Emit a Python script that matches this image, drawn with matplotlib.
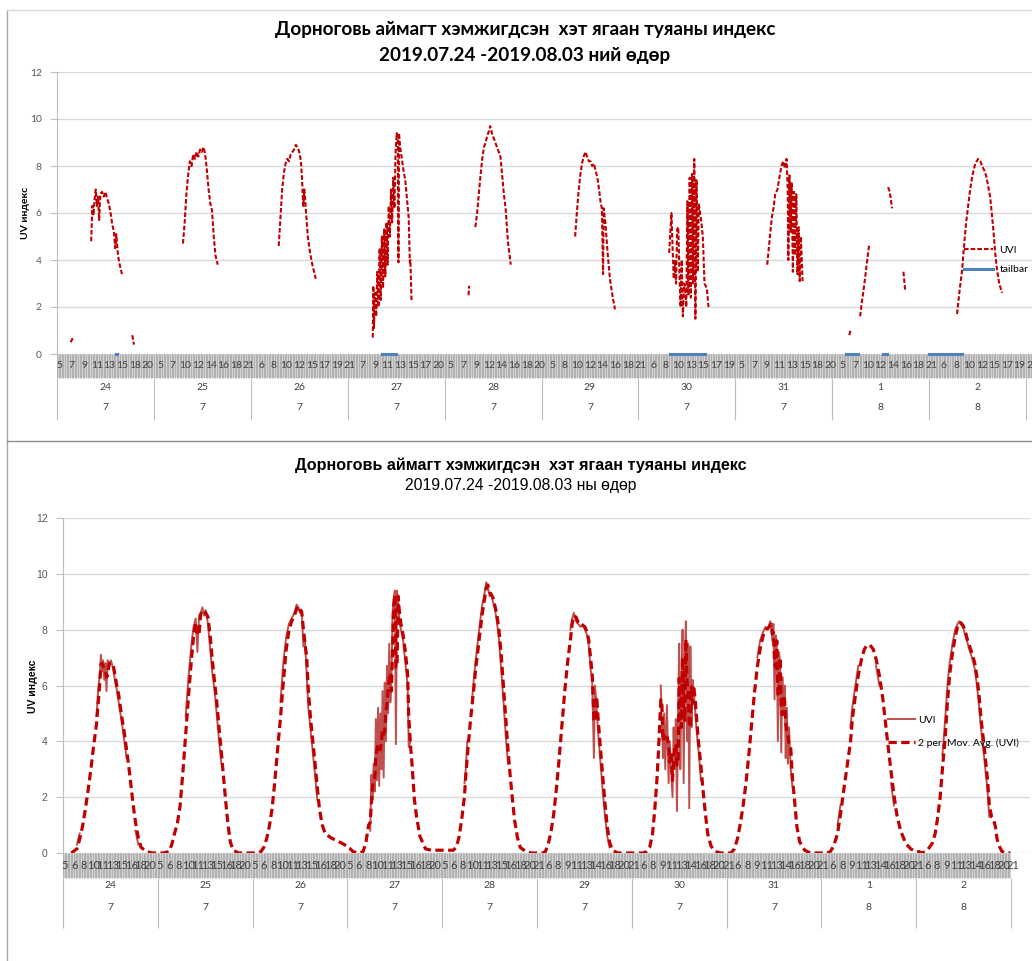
import numpy as np
import matplotlib.pyplot as plt
import matplotlib.transforms as mtransforms
from matplotlib.lines import Line2D
from matplotlib.patches import Rectangle

# ---- data -------------------------------------------------------------
days = ['24', '25', '26', '27', '28', '29', '30', '31', '1', '2']
months = ['7', '7', '7', '7', '7', '7', '7', '7', '8', '8']

# top chart: hour of day / UVI (None = no measurement)
top_hours = [
    [7.4, 7.8, 9.0, 11.0, 11.2, 11.4, 11.6, 11.8, 12.0, 12.2, 12.4, 12.6, 12.9, 13.2, 13.5, 13.8, 14.1, 14.4, 14.7, 15.0, 15.2, 15.4, 15.7, 16.0, 16.4, 17.0, 18.2, 18.5],
    [10.1, 10.4, 10.7, 11.0, 11.3, 11.6, 11.9, 12.2, 12.5, 12.8, 13.1, 13.4, 13.7, 14.0, 14.3, 14.6, 14.9, 15.2, 15.5, 15.8, 16.2],
    [9.9, 10.2, 10.5, 10.8, 11.1, 11.4, 11.7, 12.0, 12.3, 12.6, 12.9, 13.2, 13.5, 13.8, 14.0, 14.2, 14.4, 14.7, 15.0, 15.4, 15.8, 16.4],
    [9.4, 9.5, 9.6, 9.8, 10.0, 10.2, 10.4, 10.6, 10.8, 11.0, 11.2, 11.4, 11.6, 11.8, 12.0, 12.2, 12.4, 12.6, 12.8, 13.0, 13.2, 13.4, 13.6, 13.8, 13.9, 14.0, 14.2, 14.5, 14.8, 15.1, 15.4, 15.7, 15.9, 16.0, 16.2],
    [9.2, 9.3, 9.8, 10.4, 10.7, 11.0, 11.3, 11.6, 11.9, 12.2, 12.5, 12.8, 13.0, 13.3, 13.6, 13.9, 14.2, 14.5, 14.8, 15.1, 15.4, 15.7, 16.1, 16.6],
    [10.9, 11.2, 11.5, 11.8, 12.1, 12.4, 12.7, 13.0, 13.3, 13.6, 13.9, 14.2, 14.5, 14.8, 15.1, 15.4, 15.6, 15.8, 15.9, 16.2, 16.6, 17.0, 17.5, 17.9],
    [10.4, 10.6, 10.8, 11.0, 11.2, 11.4, 11.6, 11.8, 12.0, 12.2, 12.4, 12.6, 12.8, 13.0, 13.2, 13.4, 13.6, 13.8, 14.0, 14.2, 14.4, 14.6, 14.8, 15.0, 15.2, 15.4, 15.6, 15.8, 16.0, 16.3, 16.6, 17.0, 17.3],
    [10.6, 11.0, 11.4, 11.7, 12.0, 12.4, 12.8, 13.1, 13.4, 13.7, 14.0, 14.2, 14.3, 14.5, 14.7, 14.9, 15.1, 15.3, 15.5, 15.7, 15.9, 16.1, 16.3, 16.5, 16.8],
    [8.0, 8.2, 9.0, 9.9, 10.2, 10.6, 10.9, 11.2, 11.5, 13.0, 14.8, 15.1, 15.5, 16.5, 17.5, 17.8],
    [9.9, 10.3, 10.8, 11.2, 11.5, 11.9, 12.2, 12.6, 13.1, 13.6, 14.0, 14.3, 14.7, 15.0, 15.4, 15.7, 16.0, 16.3, 16.6, 16.9, 17.3, 17.8],
]
top_uvi = [
    [0.5, 0.7, None, 4.8, 6.3, 5.9, 6.6, 7.0, 6.3, 6.7, 5.7, 6.8, 6.9, 6.7, 6.9, 6.6, 6.4, 6.0, 5.5, 5.2, 4.5, 5.1, 4.2, 3.8, 3.4, None, 0.8, 0.4],
    [4.7, 5.6, 6.8, 7.6, 8.2, 8.0, 8.5, 8.3, 8.6, 8.4, 8.7, 8.6, 8.8, 8.5, 7.8, 7.0, 6.4, 6.1, 5.0, 4.2, 3.8],
    [4.6, 5.8, 7.0, 7.7, 8.1, 8.3, 8.2, 8.5, 8.6, 8.7, 8.9, 8.8, 8.6, 8.2, 7.4, 6.3, 7.0, 6.0, 5.0, 4.3, 3.8, 3.2],
    [0.7, 2.9, 1.1, 2.6, 1.6, 3.5, 2.0, 4.5, 2.3, 5.0, 2.8, 5.3, 3.3, 5.6, 3.8, 6.3, 5.0, 7.0, 5.6, 7.5, 6.2, 8.6, 9.4, 9.0, 3.9, 9.4, 8.8, 8.3, 7.8, 7.4, 6.6, 5.8, 3.9, 4.0, 2.2],
    [2.5, 2.9, None, 5.4, 6.0, 6.8, 7.6, 8.3, 8.8, 9.0, 9.3, 9.5, 9.7, 9.4, 9.2, 9.0, 8.8, 8.6, 8.4, 7.6, 6.8, 6.2, 4.8, 3.8],
    [5.0, 6.0, 6.9, 7.6, 8.1, 8.4, 8.6, 8.4, 8.2, 8.2, 8.0, 8.1, 7.8, 7.5, 7.0, 6.4, 6.2, 3.4, 6.2, 5.6, 4.3, 3.2, 2.4, 1.9],
    [4.3, 5.2, 6.0, 4.5, 3.2, 4.0, 3.0, 5.3, 5.4, 3.4, 2.0, 4.0, 1.6, 3.0, 2.9, 2.0, 6.5, 2.5, 7.5, 2.4, 7.7, 3.0, 8.3, 1.5, 7.4, 3.5, 6.4, 6.0, 5.7, 5.0, 3.0, 2.8, 2.0],
    [3.8, 4.8, 5.8, 6.2, 6.8, 7.0, 7.6, 8.0, 8.2, 7.9, 8.3, 7.0, 4.0, 7.6, 5.2, 7.3, 3.5, 6.9, 4.2, 6.8, 3.4, 5.4, 3.1, 5.0, 3.1],
    [0.8, 1.0, None, 1.6, 2.2, 2.9, 3.5, 4.1, 4.7, None, 7.1, 6.9, 6.2, None, 3.5, 2.7],
    [1.7, 2.6, 3.6, 4.8, 5.6, 6.4, 7.0, 7.6, 8.1, 8.3, 8.2, 8.0, 7.8, 7.6, 7.1, 6.7, 6.0, 5.2, 4.3, 3.6, 3.0, 2.6],
]

# tailbar readings (value 0) : day index, from hour, to hour
tail_day = [0, 3, 6, 8, 8, 9]
tail_from = [15.3, 11.0, 10.6, 7.5, 13.9, 5.0]
tail_to = [15.6, 13.4, 16.6, 9.6, 14.6, 10.8]

# bottom chart: complete UVI series
bot_hours = [
    [5.0, 6.5, 7.5, 8.0, 8.5, 9.0, 9.5, 10.0, 10.5, 11.0, 11.3, 11.6, 11.8, 12.0, 12.2, 12.4, 12.6, 12.8, 13.0, 13.3, 13.6, 14.0, 14.3, 14.6, 15.0, 15.3, 15.6, 16.0, 16.4, 16.8, 17.2, 17.6, 18.0, 18.5, 19.0, 20.0, 21.0, 21.9],
    [5.0, 6.0, 7.0, 7.5, 8.0, 8.5, 9.0, 9.5, 10.0, 10.5, 11.0, 11.4, 11.8, 12.1, 12.4, 12.7, 13.0, 13.3, 13.6, 14.0, 14.4, 14.8, 15.2, 15.6, 16.0, 16.4, 16.8, 17.2, 17.6, 18.0, 18.5, 19.5, 21.0, 21.9],
    [5.0, 6.0, 6.5, 7.0, 7.5, 8.0, 8.5, 9.0, 9.5, 10.0, 10.5, 11.0, 11.5, 12.0, 12.5, 12.9, 13.2, 13.5, 13.8, 14.1, 14.4, 14.7, 15.0, 15.4, 15.8, 16.2, 16.6, 17.0, 17.5, 18.0, 19.0, 20.0, 21.0, 21.9],
    [5.0, 5.5, 6.0, 7.0, 7.8, 8.3, 8.8, 9.1, 9.3, 9.5, 9.7, 9.9, 10.1, 10.3, 10.5, 10.7, 10.9, 11.1, 11.3, 11.5, 11.7, 11.9, 12.1, 12.3, 12.5, 12.7, 12.9, 13.1, 13.3, 13.5, 13.7, 13.9, 14.1, 14.3, 14.6, 15.0, 15.4, 15.8, 16.0, 16.3, 16.6, 17.0, 17.4, 18.0, 19.0, 20.0, 21.0, 21.9],
    [5.0, 6.0, 7.0, 7.5, 8.0, 8.5, 9.0, 9.2, 9.5, 10.0, 10.4, 10.7, 11.0, 11.4, 11.8, 12.2, 12.6, 12.9, 13.2, 13.5, 13.8, 14.1, 14.4, 14.8, 15.2, 15.6, 16.0, 16.4, 16.8, 17.2, 17.6, 18.0, 18.5, 19.0, 20.0, 21.0, 21.9],
    [5.0, 6.0, 6.5, 7.0, 7.5, 8.0, 8.5, 9.0, 9.5, 10.0, 10.5, 11.0, 11.3, 11.6, 12.0, 12.4, 12.8, 13.2, 13.6, 14.0, 14.3, 14.6, 14.9, 15.2, 15.4, 15.7, 16.0, 16.4, 16.8, 17.2, 17.6, 18.0, 18.5, 19.5, 21.0, 21.9],
    [5.0, 6.0, 7.0, 7.6, 8.2, 8.7, 9.1, 9.5, 9.8, 10.0, 10.2, 10.4, 10.6, 10.8, 11.0, 11.3, 11.6, 11.8, 12.0, 12.3, 12.5, 12.7, 12.9, 13.1, 13.3, 13.5, 13.7, 13.9, 14.1, 14.3, 14.5, 14.7, 14.9, 15.1, 15.3, 15.5, 15.7, 15.9, 16.1, 16.4, 16.7, 17.0, 17.4, 17.8, 18.2, 18.6, 19.2, 20.0, 21.0, 21.9],
    [5.0, 5.8, 6.4, 7.0, 7.5, 8.0, 8.5, 9.0, 9.5, 10.0, 10.5, 11.0, 11.5, 12.0, 12.4, 12.8, 13.0, 13.2, 13.4, 13.6, 13.8, 14.0, 14.2, 14.4, 14.6, 14.8, 15.0, 15.2, 15.4, 15.6, 15.8, 16.0, 16.2, 16.5, 16.8, 17.2, 17.6, 18.1, 19.0, 20.0, 21.0, 21.9],
    [5.0, 6.0, 6.6, 7.2, 7.9, 8.4, 8.9, 9.5, 10.2, 10.6, 11.1, 11.6, 12.2, 12.7, 13.2, 13.7, 14.3, 14.8, 15.4, 16.0, 16.5, 17.0, 17.5, 18.0, 18.5, 19.2, 20.1, 21.0, 21.9],
    [5.0, 5.5, 6.1, 7.0, 7.9, 8.4, 8.8, 9.3, 9.7, 10.2, 10.6, 11.0, 11.5, 12.0, 12.4, 12.7, 13.0, 13.4, 13.8, 14.1, 14.5, 15.0, 15.5, 15.9, 16.3, 16.6, 17.0, 17.4, 17.8, 18.1, 18.5, 18.8, 19.2, 19.5, 20.0, 20.4, 21.0, 21.9],
]
bot_uvi = [
    [0.0, 0.0, 0.3, 0.7, 1.2, 1.9, 2.6, 3.4, 4.3, 4.9, 5.8, 6.4, 7.1, 6.5, 6.9, 6.2, 6.8, 5.8, 6.9, 6.7, 6.9, 6.6, 6.2, 5.9, 5.4, 5.0, 4.6, 4.0, 3.4, 2.8, 2.0, 1.4, 0.8, 0.3, 0.1, 0.0, 0.0, 0.0],
    [0.0, 0.0, 0.1, 0.5, 0.9, 1.2, 2.2, 3.6, 4.9, 6.3, 7.4, 8.1, 8.4, 7.2, 8.5, 8.6, 8.8, 8.5, 8.7, 8.2, 7.3, 6.4, 5.8, 4.9, 4.0, 3.2, 2.2, 1.4, 0.6, 0.2, 0.0, 0.0, 0.0, 0.0],
    [0.0, 0.0, 0.1, 0.3, 0.7, 1.2, 2.0, 3.2, 4.3, 5.4, 6.8, 7.7, 8.2, 8.4, 8.6, 8.9, 8.8, 8.6, 8.7, 7.4, 7.6, 6.4, 5.2, 4.4, 3.6, 2.8, 1.9, 1.2, 0.8, 0.6, 0.5, 0.4, 0.3, 0.2],
    [0.2, 0.1, 0.0, 0.0, 0.1, 0.6, 1.4, 0.8, 2.8, 1.9, 3.2, 2.2, 4.8, 2.6, 5.2, 2.4, 5.0, 3.0, 5.8, 2.7, 6.1, 4.0, 6.7, 5.0, 7.5, 5.4, 6.2, 8.6, 9.1, 9.4, 3.9, 9.4, 9.0, 8.4, 8.0, 7.6, 6.8, 6.0, 3.8, 4.0, 2.3, 1.6, 1.0, 0.2, 0.1, 0.1, 0.1, 0.1],
    [0.1, 0.1, 0.1, 0.3, 0.8, 1.6, 2.5, 2.9, 4.0, 5.2, 5.6, 6.3, 6.9, 7.6, 8.3, 8.9, 9.3, 9.7, 9.5, 9.2, 9.3, 9.0, 8.8, 8.3, 7.6, 6.5, 5.4, 4.2, 3.2, 2.3, 1.5, 0.8, 0.3, 0.1, 0.0, 0.0, 0.0],
    [0.0, 0.0, 0.1, 0.5, 1.0, 1.8, 2.9, 4.0, 5.3, 6.4, 7.3, 8.0, 8.4, 8.6, 8.3, 8.2, 8.1, 8.2, 8.0, 7.8, 7.4, 6.6, 6.2, 3.4, 6.0, 5.2, 4.2, 3.2, 2.2, 1.3, 0.6, 0.2, 0.0, 0.0, 0.0, 0.0],
    [0.0, 0.0, 0.0, 0.1, 0.3, 1.0, 2.0, 3.2, 4.2, 5.0, 6.0, 4.6, 3.4, 5.0, 3.0, 5.3, 2.5, 4.0, 3.2, 2.0, 4.5, 3.0, 4.8, 1.5, 5.0, 7.5, 3.0, 6.0, 8.0, 2.5, 7.0, 8.3, 4.0, 7.5, 1.6, 7.4, 4.5, 6.2, 5.8, 5.0, 4.2, 3.6, 2.6, 1.8, 1.0, 0.4, 0.1, 0.0, 0.0, 0.0],
    [0.0, 0.0, 0.3, 0.8, 1.4, 2.1, 3.0, 4.1, 5.2, 6.3, 7.0, 7.6, 7.9, 8.1, 8.0, 8.3, 8.1, 7.6, 8.2, 5.5, 7.8, 7.4, 4.0, 7.2, 6.8, 3.6, 6.3, 5.0, 6.0, 3.4, 5.2, 3.2, 4.5, 3.0, 2.4, 1.3, 0.6, 0.2, 0.0, 0.0, 0.0, 0.0],
    [0.0, 0.0, 0.1, 0.4, 1.0, 1.7, 2.5, 3.4, 4.5, 5.3, 6.0, 6.7, 7.2, 7.4, 7.5, 7.4, 7.2, 6.7, 6.0, 5.1, 4.2, 3.3, 2.5, 1.7, 1.1, 0.5, 0.2, 0.1, 0.0],
    [0.1, 0.0, 0.0, 0.2, 0.5, 0.9, 1.5, 2.5, 3.5, 4.8, 6.0, 6.8, 7.5, 8.0, 8.2, 8.3, 8.2, 8.1, 7.8, 7.6, 7.3, 7.0, 6.6, 6.0, 5.2, 4.5, 3.8, 3.0, 2.2, 1.3, 1.3, 1.2, 0.7, 0.3, 0.1, 0.0, 0.0, 0.0],
]

top_hour_labels = [
    ['5', '7', '9', '11', '13', '15', '18', '20'],
    ['5', '7', '10', '12', '14', '16', '18', '21'],
    ['6', '8', '10', '12', '15', '17', '19', '21'],
    ['7', '9', '11', '13', '15', '17', '20'],
    ['5', '7', '9', '12', '14', '16', '18', '20'],
    ['5', '8', '10', '12', '14', '16', '18', '21'],
    ['6', '8', '10', '13', '15', '17', '19'],
    ['5', '7', '9', '11', '13', '15', '18', '20'],
    ['5', '7', '10', '12', '14', '16', '18', '21'],
    ['6', '8', '10', '12', '15', '17', '19', '21'],
]
bot_hour_labels = [
    ['5', '6', '8', '10', '11', '13', '15', '16', '18', '20'],
    ['5', '6', '8', '10', '11', '13', '15', '16', '18', '20'],
    ['5', '6', '8', '10', '11', '13', '15', '16', '18', '20'],
    ['5', '6', '8', '10', '11', '13', '15', '16', '18', '20'],
    ['5', '6', '8', '10', '11', '13', '15', '16', '18', '20', '21'],
    ['6', '8', '9', '11', '13', '14', '16', '18', '20', '21'],
    ['6', '8', '9', '11', '13', '14', '16', '18', '20', '21'],
    ['6', '8', '9', '11', '13', '14', '16', '18', '20', '21'],
    ['6', '8', '9', '11', '13', '14', '16', '18', '20', '21'],
    ['6', '8', '9', '11', '13', '14', '16', '18', '20', '21'],
]

DAY = 17.0   # hours 5..22 shown per day
RED = '#c00000'
CAL = ['Lato', 'DejaVu Sans']
ARIAL = ['Liberation Sans', 'DejaVu Sans']


def build(hours, vals, gaps):
    xs, ys = [], []
    for i, (hh, vv) in enumerate(zip(hours, vals)):
        for h, v in zip(hh, vv):
            xs.append(i * DAY + h - 5)
            ys.append(np.nan if v is None else v)
        if gaps:
            xs.append(np.nan)
            ys.append(np.nan)
    return np.array(xs), np.array(ys)


def measured_spans(hours, vals):
    # stretches of hours where the station reported values
    spans = []
    for hh, vv in zip(hours, vals):
        day, start, last = [], None, None
        for h, v in zip(hh, vv):
            if v is None:
                if start is not None:
                    day.append((start, last))
                start = None
            else:
                start = h if start is None else start
                last = h
        if start is not None:
            day.append((start, last))
        spans.append(day)
    return spans


def category_axis(ax, labels, first, step, band, day_y, mon_y, sep_y, xend, fam, fs):
    tr = mtransforms.blended_transform_factory(ax.transData, ax.transAxes)
    ax.add_patch(Rectangle((0, -band), xend, band, transform=tr, fc='#d2d2d2',
                           ec='none', clip_on=False, zorder=3))
    ax.vlines(np.arange(0, xend, DAY / 60), -band, 0, transform=tr, colors='#a3a3a3',
              lw=0.5, clip_on=False, zorder=3)
    flat = [l for d in labels for l in d]
    for i, lab in enumerate(flat):
        ax.text(first + i * step, -band / 2, lab, transform=tr, ha='center', va='center',
                fontsize=fs, color='#404040', family=fam, clip_on=False, zorder=4)
    ax.vlines(np.arange(0, 11) * DAY, sep_y, -band, transform=tr, colors='#bfbfbf',
              lw=0.8, clip_on=False)
    for i in range(len(days)):
        ax.text((i + 0.5) * DAY, day_y, days[i], transform=tr, ha='center', va='center',
                fontsize=7.5, color='#404040', family=fam)
        ax.text((i + 0.5) * DAY, mon_y, months[i], transform=tr, ha='center', va='center',
                fontsize=7.5, color='#404040', family=fam)


def style_y(ax, fam):
    ax.set_ylim(0, 12)
    ax.set_yticks(range(0, 13, 2))
    ax.grid(axis='y', color='#d9d9d9', lw=1.0)
    ax.set_axisbelow(True)
    for s in ['top', 'right', 'bottom']:
        ax.spines[s].set_visible(False)
    ax.spines['left'].set_color('#bfbfbf')
    ax.tick_params(axis='y', length=5, color='#bfbfbf', labelsize=7.5,
                   labelcolor='#595959', pad=6)
    ax.tick_params(axis='x', bottom=False, labelbottom=False)
    for t in ax.get_yticklabels():
        t.set_family(fam)


W, H = 1032, 961
fig = plt.figure(figsize=(W / 100, H / 100), dpi=100)

# frame lines of the two chart boxes
fig.add_artist(Line2D([7 / W, 7 / W], [1 - 10 / H, 0], color='#a6a6a6', lw=1))
fig.add_artist(Line2D([7 / W, 1], [1 - 10 / H, 1 - 10 / H], color='#d9d9d9', lw=1))
fig.add_artist(Line2D([7 / W, 1], [1 - 441 / H, 1 - 441 / H], color='#8c8c8c', lw=1))

# ---- top chart --------------------------------------------------------
px_top = 96.9 / DAY
ax1 = fig.add_axes([57 / W, 1 - 354 / H, 1032 / W, 282 / H])
ax1.set_xlim(0, 1032 / px_top)
style_y(ax1, CAL)
x, y = build(top_hours, top_uvi, True)
ax1.plot(x, y, color=RED, lw=1.5, dashes=(2.2, 1.0), label='UVI')
for d, a, b in zip(tail_day, tail_from, tail_to):
    ax1.plot([d * DAY + a - 5, d * DAY + b - 5], [0, 0], color='#4f81bd', lw=2.2,
             clip_on=False, zorder=5)
category_axis(ax1, top_hour_labels, 2 / px_top, 12.64 / px_top, 24 / 282,
              -34 / 282, -54 / 282, -66 / 282, 1032 / px_top, CAL, 7.5)
h1 = [Line2D([], [], color=RED, lw=1.5, dashes=(2.2, 1.0)),
      Line2D([], [], color='#4f81bd', lw=2.2)]
ax1.legend(h1, ['UVI', 'tailbar'], loc='upper left', bbox_to_anchor=(907 / 1032, 0.385),
           frameon=False, prop={'family': CAL, 'size': 7.5}, handlelength=2.8,
           handletextpad=0.6, labelspacing=1.0, borderpad=0, borderaxespad=0)
fig.text(525 / W, 1 - 30 / H, 'Дорноговь аймагт хэмжигдсэн  хэт ягаан туяаны индекс',
         ha='center', va='center', fontsize=13.6, fontweight='bold', family=CAL)
fig.text(525 / W, 1 - 55 / H, '2019.07.24 -2019.08.03 ний өдөр',
         ha='center', va='center', fontsize=13.6, fontweight='bold', family=CAL)
fig.text(25 / W, 1 - 213 / H, 'UV индекс', rotation=90, ha='center', va='center',
         fontsize=7.5, fontweight='bold', family=CAL)

# ---- bottom chart -----------------------------------------------------
px_bot = 94.8 / DAY
ax2 = fig.add_axes([63 / W, 1 - 853 / H, 967 / W, 335 / H])
ax2.set_xlim(0, 967 / px_bot)
style_y(ax2, ARIAL)
x, y = build(bot_hours, bot_uvi, False)
ma = np.r_[np.nan, (y[1:] + y[:-1]) / 2]
# thin UVI line only where the station actually reported (spans of the top chart)
spans = measured_spans(top_hours, top_uvi)
shown = np.zeros(len(x), dtype=bool)
for i, day_spans in enumerate(spans):
    for a, b in day_spans:
        shown |= (x >= i * DAY + a - 5 - 0.3) & (x <= i * DAY + b - 5 + 0.3)
ax2.plot(x, np.where(shown, y, np.nan), color='#c0504d', lw=1.4)
ax2.plot(x, ma, color=RED, lw=2.3, dashes=(2.6, 1.4))
category_axis(ax2, bot_hour_labels, 2 / px_bot, 9.48 / px_bot, 25 / 335,
              -32 / 335, -55 / 335, -75 / 335, 170, CAL, 8)
h2 = [Line2D([], [], color='#c0504d', lw=1.4),
      Line2D([], [], color=RED, lw=2.3, dashes=(2.6, 1.4))]
ax2.legend(h2, ['UVI', '2 per. Mov. Avg. (UVI)'], loc='upper left',
           bbox_to_anchor=(825 / 967, 0.41), frameon=False,
           prop={'family': CAL, 'size': 7.5}, handlelength=2.6, handletextpad=0.3,
           labelspacing=1.25, borderpad=0, borderaxespad=0)
fig.text(521 / W, 1 - 465 / H, 'Дорноговь аймагт хэмжигдсэн  хэт ягаан туяаны индекс',
         ha='center', va='center', fontsize=11.6, fontweight='bold', family=ARIAL)
fig.text(521 / W, 1 - 485 / H, '2019.07.24 -2019.08.03 ны өдөр',
         ha='center', va='center', fontsize=11.3, family=ARIAL)
fig.text(33 / W, 1 - 686 / H, 'UV индекс', rotation=90, ha='center', va='center',
         fontsize=7.5, fontweight='bold', family=ARIAL)

fig.savefig('out.png', dpi=100)
